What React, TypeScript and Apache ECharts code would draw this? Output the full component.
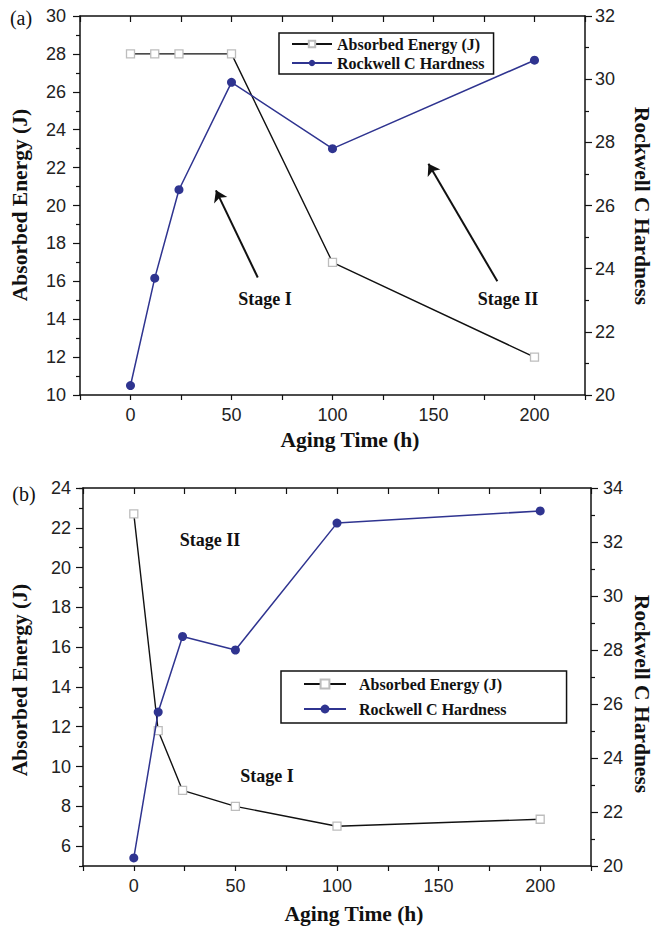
import React, { useEffect, useRef } from 'react';
import * as echarts from 'echarts';

// ---- Data ----
const agingTimeA = [0, 12, 24, 50, 100, 200];
const energyA = [28, 28, 28, 28, 17, 12];
const hardnessA = [20.3, 23.7, 26.5, 29.9, 27.8, 30.6];

const agingTimeB = [0, 12, 24, 50, 100, 200];
const energyB = [22.7, 11.8, 8.8, 8.0, 7.0, 7.35];
const hardnessB = [20.3, 25.7, 28.5, 28.0, 32.7, 33.15];

const xTickLabels = [0, 50, 100, 150, 200];
const energyTicksB = [6, 8, 10, 12, 14, 16, 18, 20, 22, 24];

// arrows in panel (a): [tail, head] in data coords (x, absorbed energy)
const arrowsA = [
  [[63, 16.2], [42.3, 20.8]],
  [[181.6, 16.0], [147.5, 22.2]],
];

const NAME_E = 'Absorbed Energy (J)';
const NAME_H = 'Rockwell C Hardness';

const SANS = "'Liberation Sans', Arial, sans-serif";
const SERIF = "'Liberation Serif', 'Times New Roman', serif";
const AX = '#111';
const NAVY = '#2f3490';
const TICK_FS = 18;

function pairs(xs: number[], ys: number[]) {
  return xs.map((x, i) => [x, ys[i]]);
}

function bottomX(gridIndex: number) {
  return {
    type: 'value', gridIndex, position: 'bottom', min: -25, max: 225, interval: 25,
    axisLine: { show: true, onZero: false, lineStyle: { color: AX, width: 1.5 } },
    axisTick: { show: true, inside: false, length: 5, lineStyle: { color: AX, width: 1.2 } },
    axisLabel: {
      show: true, margin: 11, fontFamily: SANS, fontSize: TICK_FS, color: '#222',
      formatter: (v: number) => (xTickLabels.includes(v) ? String(v) : ''),
    },
    splitLine: { show: false },
  };
}
function topX(gridIndex: number) {
  return {
    type: 'value', gridIndex, position: 'top', min: -25, max: 225, interval: 25,
    axisLine: { show: true, onZero: false, lineStyle: { color: AX, width: 1.5 } },
    axisTick: { show: true, inside: true, length: 6, lineStyle: { color: AX, width: 1.2 } },
    axisLabel: { show: false },
    splitLine: { show: false },
  };
}
function yAx(gridIndex: number, position: string, min: number, max: number, margin: number) {
  return {
    type: 'value', gridIndex, position, min, max, interval: 2,
    axisLine: { show: true, onZero: false, lineStyle: { color: AX, width: 1.5 } },
    axisTick: { show: true, inside: false, length: 7, lineStyle: { color: AX, width: 1.2 } },
    minorTick: { show: true, splitNumber: 2, length: 4, lineStyle: { color: AX, width: 1.2 } },
    axisLabel: { show: true, margin, fontFamily: SANS, fontSize: TICK_FS, color: '#222' },
    splitLine: { show: false },
    minorSplitLine: { show: false },
  };
}

const energyStyle = {
  type: 'line',
  symbol: 'rect',
  symbolSize: 8,
  lineStyle: { color: '#111', width: 1.4 },
  itemStyle: { color: '#fff', borderColor: '#bdbdbd', borderWidth: 1.3 },
  z: 3,
};
const hardStyle = {
  type: 'line',
  symbol: 'circle',
  symbolSize: 9,
  lineStyle: { color: NAVY, width: 1.5 },
  itemStyle: { color: NAVY },
  z: 4,
};

function text(t: string, x: number, y: number, size: number, bold: boolean, rotation = 0) {
  return {
    type: 'text', x, y, rotation, silent: true,
    style: {
      text: t, fill: '#111', fontFamily: SERIF, fontSize: size,
      fontWeight: bold ? 'bold' : 'normal', align: 'center', verticalAlign: 'middle',
    },
  };
}

export default function App() {
  const ref = useRef<HTMLDivElement>(null);
  useEffect(() => {
    if (!ref.current) return;
    const chart = echarts.init(ref.current, undefined, { renderer: 'svg' });
    const option: any = {
      animation: false,
      backgroundColor: '#fff',
      grid: [
        { left: 80, top: 16, width: 505, height: 379 },
        { left: 83, top: 488, width: 508, height: 378 },
      ],
      xAxis: [bottomX(0), topX(0), bottomX(1), topX(1)],
      yAxis: [
        yAx(0, 'left', 10, 30, 14),
        yAx(0, 'right', 20, 32, 10),
        {
          type: 'value', gridIndex: 1, position: 'left', min: 5, max: 24, interval: 1,
          axisLine: { show: true, onZero: false, lineStyle: { color: AX, width: 1.5 } },
          axisTick: { show: true, inside: false, length: 7, customValues: energyTicksB, lineStyle: { color: AX, width: 1.2 } },
          axisLabel: { show: true, margin: 12, fontFamily: SANS, fontSize: TICK_FS, color: '#222', customValues: energyTicksB },
          splitLine: { show: false },
        },
        yAx(1, 'right', 20, 34, 12),
        {
          type: 'value', gridIndex: 1, position: 'left', offset: 0, min: 5, max: 24, interval: 2,
          axisLine: { show: false, onZero: false },
          axisTick: { show: true, inside: false, length: 4, lineStyle: { color: AX, width: 1.2 } },
          axisLabel: { show: false },
          splitLine: { show: false },
        },
      ],
      legend: [
        {
          orient: 'vertical', left: 279, top: 33,
          padding: [3, 9, 3, 12], itemGap: 3, itemWidth: 40, itemHeight: 8,
          borderColor: AX, borderWidth: 1.5, backgroundColor: '#fff',
          textStyle: { fontFamily: SERIF, fontWeight: 'bold', fontSize: 16, color: '#111' },
          data: [NAME_E, NAME_H],
          selectedMode: false,
        },
        {
          orient: 'vertical', left: 281, top: 671,
          padding: [5, 60, 6, 22], itemGap: 9, itemWidth: 42, itemHeight: 11,
          borderColor: AX, borderWidth: 1.5, backgroundColor: '#fff',
          textStyle: { fontFamily: SERIF, fontWeight: 'bold', fontSize: 16, color: '#111', padding: [0, 0, 0, 8] },
          data: [NAME_E, NAME_H],
          selectedMode: false,
        },
      ],
      series: [
        {
          ...energyStyle, name: NAME_E, xAxisIndex: 0, yAxisIndex: 0,
          data: pairs(agingTimeA, energyA),
          markLine: {
            silent: true, symbol: ['none', 'arrow'], symbolSize: 11,
            lineStyle: { color: '#111', width: 2, type: 'solid' },
            label: { show: false },
            data: arrowsA.map(([a, b]) => [{ coord: a }, { coord: b }]),
          },
        },
        { ...hardStyle, name: NAME_H, xAxisIndex: 0, yAxisIndex: 1, data: pairs(agingTimeA, hardnessA) },
        { ...energyStyle, name: NAME_E, xAxisIndex: 2, yAxisIndex: 2, data: pairs(agingTimeB, energyB) },
        { ...hardStyle, name: NAME_H, xAxisIndex: 2, yAxisIndex: 3, data: pairs(agingTimeB, hardnessB) },
      ],
      graphic: [
        text('(a)', 21, 18, 20, false),
        text('(b)', 24, 494, 20, false),
        text('Absorbed Energy (J)', 20, 205, 21.5, true, Math.PI / 2),
        text('Rockwell C Hardness', 642, 206, 21.5, true, -Math.PI / 2),
        text('Aging Time (h)', 350, 440, 21.5, true),
        text('Absorbed Energy (J)', 20, 680, 21.5, true, Math.PI / 2),
        text('Rockwell C Hardness', 642, 694, 21.5, true, -Math.PI / 2),
        text('Aging Time (h)', 354, 914, 21.5, true),
        text('Stage I', 265, 299, 18, true),
        text('Stage II', 508, 299, 18, true),
        text('Stage II', 210, 540, 18, true),
        text('Stage I', 267, 776, 18, true),
      ],
    };
    chart.setOption(option);
    return () => chart.dispose();
  }, []);
  return (
    <div
      ref={ref}
      style={{ position: 'fixed', left: 0, top: 0, width: 653, height: 926, background: '#fff' }}
    />
  );
}
